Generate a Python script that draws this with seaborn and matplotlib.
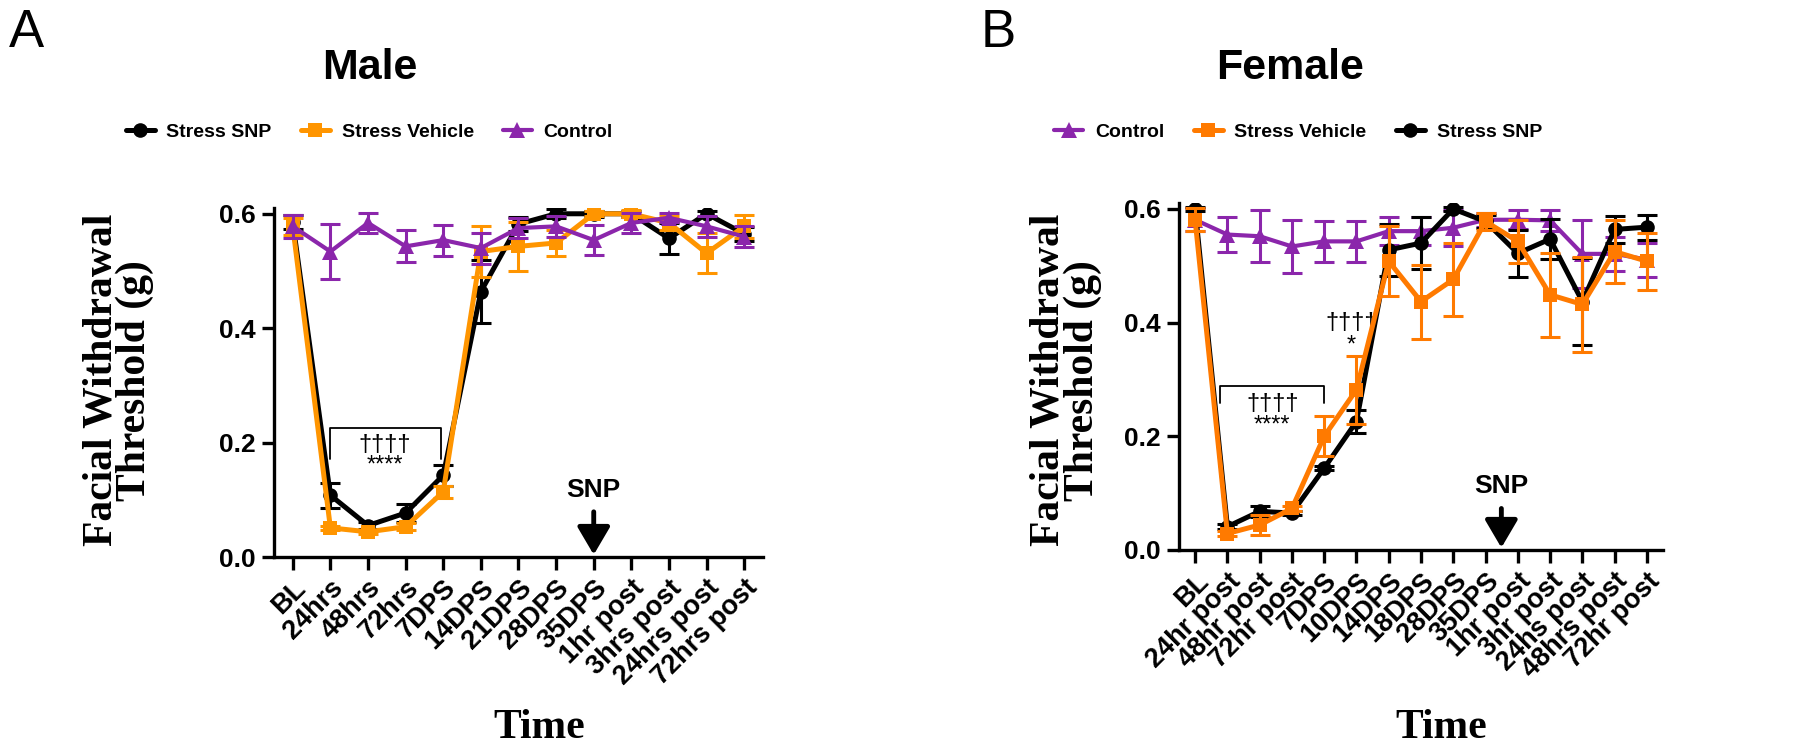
import numpy as np
import pandas as pd
import matplotlib
matplotlib.use('Agg')
import matplotlib.pyplot as plt
from matplotlib import font_manager
import seaborn as sns

# ---- data ----
male_labels = ['BL', '24hrs', '48hrs', '72hrs', '7DPS', '14DPS', '21DPS', '28DPS', '35DPS',
               '1hr post', '3hrs post', '24hrs post', '72hrs post']
male_snp = [0.585, 0.108, 0.055, 0.077, 0.143, 0.464, 0.582, 0.600, 0.600, 0.600, 0.557, 0.600, 0.565]
male_snp_err = [0.012, 0.022, 0.006, 0.015, 0.018, 0.055, 0.012, 0.008, 0.005, 0.005, 0.027, 0.005, 0.012]
male_veh = [0.578, 0.051, 0.044, 0.053, 0.114, 0.534, 0.543, 0.549, 0.600, 0.600, 0.584, 0.531, 0.578]
male_veh_err = [0.015, 0.004, 0.004, 0.006, 0.010, 0.045, 0.043, 0.022, 0.004, 0.006, 0.012, 0.035, 0.020]
male_ctl = [0.578, 0.534, 0.584, 0.543, 0.554, 0.540, 0.575, 0.578, 0.554, 0.584, 0.593, 0.578, 0.560]
male_ctl_err = [0.020, 0.048, 0.017, 0.028, 0.027, 0.027, 0.017, 0.018, 0.026, 0.017, 0.008, 0.018, 0.018]

fem_labels = ['BL', '24hr post', '48hr post', '72hr post', '7DPS', '10DPS', '14DPS', '18DPS', '28DPS',
              '35DPS', '1hr post', '3hr post', '24hs post', '48hrs post', '72hr post']
fem_snp = [0.600, 0.041, 0.068, 0.065, 0.144, 0.226, 0.528, 0.540, 0.600, 0.578, 0.522, 0.547, 0.437, 0.564, 0.568]
fem_snp_err = [0.003, 0.004, 0.010, 0.004, 0.004, 0.021, 0.046, 0.045, 0.003, 0.012, 0.041, 0.035, 0.076, 0.024, 0.022]
fem_veh = [0.581, 0.029, 0.044, 0.073, 0.200, 0.282, 0.508, 0.437, 0.476, 0.578, 0.543, 0.449, 0.432, 0.525, 0.508]
fem_veh_err = [0.020, 0.004, 0.018, 0.005, 0.035, 0.060, 0.062, 0.065, 0.064, 0.015, 0.038, 0.074, 0.084, 0.055, 0.050]
fem_ctl = [0.581, 0.555, 0.552, 0.534, 0.543, 0.543, 0.561, 0.561, 0.567, 0.581, 0.581, 0.580, 0.521, 0.521, 0.511]
fem_ctl_err = [0.020, 0.030, 0.046, 0.047, 0.036, 0.036, 0.024, 0.025, 0.032, 0.012, 0.017, 0.018, 0.060, 0.030, 0.030]

black = '#000000'
purple = '#8B26AB'
orange_m = '#FF9500'
orange_f = '#FF7A00'

sns.set_style('ticks')
plt.rcParams['font.family'] = ['Liberation Sans', 'DejaVu Sans']
plt.rcParams['axes.linewidth'] = 2.4
for k in ('text.color', 'axes.labelcolor', 'xtick.color', 'ytick.color', 'axes.edgecolor'):
    plt.rcParams[k] = 'black'

# condensed face for titles / legend if the system has it
have = {f.name for f in font_manager.fontManager.ttflist}
if 'Liberation Sans Narrow' in have:
    narrow = ['Liberation Sans Narrow', 'Liberation Sans']
    title_size, leg_size = 37, 17
else:
    narrow = ['Liberation Sans', 'DejaVu Sans']
    title_size, leg_size = 31, 14

fig = plt.figure(figsize=(18, 7.56), dpi=100)
axL = fig.add_axes([0.1522, 0.2632, 0.2717, 0.4616])
axR = fig.add_axes([0.6550, 0.2725, 0.2689, 0.4586])


def draw(ax, labels, series, colors):
    x = np.arange(len(labels))
    rows = []
    for name, vals, err in series:
        for i, v in enumerate(vals):
            rows.append({'x': x[i], 'y': v, 'err': err[i], 'group': name})
    df = pd.DataFrame(rows)
    order = [s[0] for s in series]
    markers = {'Stress SNP': 'o', 'Stress Vehicle': 's', 'Control': '^'}
    msize = {'Stress SNP': 10.5, 'Stress Vehicle': 10.5, 'Control': 11}
    lws = {'Stress SNP': 3.6, 'Stress Vehicle': 3.6, 'Control': 3.0}
    handles = {}
    for k, name in enumerate(order):
        sub = df[df.group == name]
        ax.errorbar(sub.x, sub.y, yerr=sub.err, fmt='none', ecolor=colors[name],
                    elinewidth=2.2, capsize=7, capthick=2.2, zorder=2 + k * 2)
        sns.lineplot(data=sub, x='x', y='y', ax=ax, color=colors[name],
                     marker=markers[name], markersize=msize[name], markeredgewidth=0,
                     linewidth=lws[name], zorder=3 + k * 2, legend=False,
                     errorbar=None, sort=False)
        handles[name] = ax.lines[-1]
    ax.set_xlim(-0.5, len(labels) - 0.5)
    ax.set_ylim(0, 0.61)
    ax.set_yticks([0.0, 0.2, 0.4, 0.6])
    ax.set_yticklabels(['0.0', '0.2', '0.4', '0.6'], fontsize=19, fontweight='bold')
    ax.set_xticks(x)
    ax.set_xticklabels(labels, rotation=45, ha='right', va='top', rotation_mode='anchor',
                       fontsize=19.5, fontweight='bold')
    ax.tick_params(axis='both', length=9, width=2.4, direction='out', pad=4)
    ax.set_xlabel('')
    ax.set_ylabel('')
    sns.despine(ax=ax)
    return handles


def bracket(ax, x0, x1, top, leg):
    ax.plot([x0, x0, x1, x1], [leg, top, top, leg], color='black', lw=1.3, zorder=10)


def snp_arrow(ax, xpos, ytext, ystart):
    ax.text(xpos, ytext, 'SNP', ha='center', va='center', fontsize=19, fontweight='bold')
    ax.annotate('', xy=(xpos, 0.004), xytext=(xpos, ystart),
                arrowprops=dict(arrowstyle='-|>,head_width=0.5,head_length=0.85',
                                color='black', lw=3.5, mutation_scale=20,
                                shrinkA=0, shrinkB=0), zorder=12)


hL = draw(axL, male_labels,
          [('Stress SNP', male_snp, male_snp_err),
           ('Stress Vehicle', male_veh, male_veh_err),
           ('Control', male_ctl, male_ctl_err)],
          {'Stress SNP': black, 'Stress Vehicle': orange_m, 'Control': purple})
hR = draw(axR, fem_labels,
          [('Control', fem_ctl, fem_ctl_err),
           ('Stress SNP', fem_snp, fem_snp_err),
           ('Stress Vehicle', fem_veh, fem_veh_err)],
          {'Stress SNP': black, 'Stress Vehicle': orange_f, 'Control': purple})

# annotations, male
bracket(axL, 1, 3.93, 0.226, 0.172)
axL.text(2.45, 0.196, '\u2020\u2020\u2020\u2020', ha='center', va='center', fontsize=17)
axL.text(2.45, 0.160, '****', ha='center', va='center', fontsize=17)
snp_arrow(axL, 8, 0.117, 0.079)

# annotations, female
bracket(axR, 0.77, 4.0, 0.289, 0.258)
axR.text(2.39, 0.256, '\u2020\u2020\u2020\u2020', ha='center', va='center', fontsize=17)
axR.text(2.39, 0.219, '****', ha='center', va='center', fontsize=17)
axR.text(4.85, 0.400, '\u2020\u2020\u2020\u2020', ha='center', va='center', fontsize=17)
axR.text(4.85, 0.360, '*', ha='center', va='center', fontsize=17)
snp_arrow(axR, 9.49, 0.112, 0.073)

# legends
leg_kw = dict(frameon=False, ncol=3, handlelength=1.5, handletextpad=0.6,
              columnspacing=1.5, loc='center left',
              prop={'weight': 'bold', 'size': leg_size, 'family': narrow})
fig.legend([hL['Stress SNP'], hL['Stress Vehicle'], hL['Control']],
           ['Stress SNP', 'Stress Vehicle', 'Control'],
           bbox_to_anchor=(0.060, 0.825), **leg_kw)
fig.legend([hR['Control'], hR['Stress Vehicle'], hR['Stress SNP']],
           ['Control', 'Stress Vehicle', 'Stress SNP'],
           bbox_to_anchor=(0.576, 0.825), **leg_kw)

# titles and labels
fig.text(0.2056, 0.91, 'Male', ha='center', va='center', fontsize=title_size,
         fontweight='bold', family=narrow)
fig.text(0.7167, 0.91, 'Female', ha='center', va='center', fontsize=title_size,
         fontweight='bold', family=narrow)
fig.text(0.005, 0.99, 'A', ha='left', va='top', fontsize=38)
fig.text(0.545, 0.99, 'B', ha='left', va='top', fontsize=38)

ylab = 'Facial Withdrawal\nThreshold (g)'
for xc in (0.0656, 0.592):
    fig.text(xc, 0.497, ylab, ha='center', va='center', rotation=90,
             fontsize=30, fontweight='bold', family=['Liberation Serif', 'DejaVu Serif'],
             linespacing=0.85)
for xc in (0.2994, 0.8006):
    fig.text(xc, 0.037, 'Time', ha='center', va='center', fontsize=30,
             fontweight='bold', family=['Liberation Serif', 'DejaVu Serif'])

fig.savefig('out.png', dpi=100)
